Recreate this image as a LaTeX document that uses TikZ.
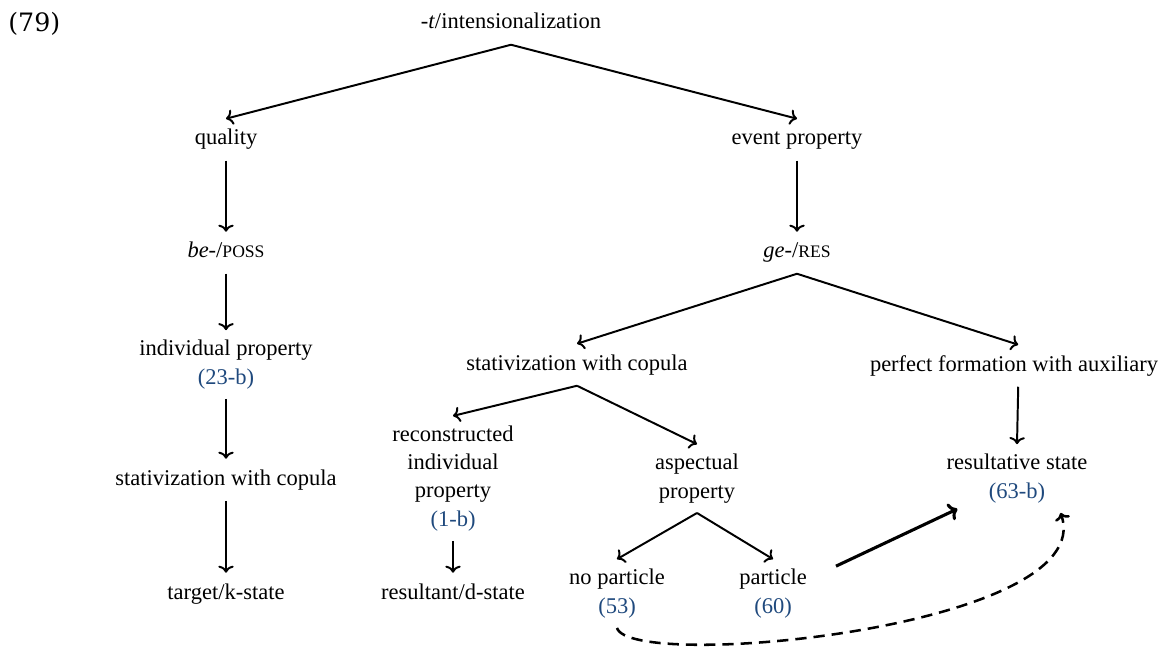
\documentclass[tikz,border=0pt]{standalone}
\usepackage{fontspec}
\setmainfont{Liberation Serif}
\newfontfamily\exnofont{DejaVu Serif}
\usepackage{tikz}
\usetikzlibrary{positioning, arrows.meta}

\definecolor{refblue}{RGB}{31,73,125}
\newcommand{\exref}[1]{\textcolor{refblue}{(#1)}}
\newcommand{\fsc}[1]{{\fontsize{12.5}{14}\selectfont #1}}

\tikzset{
  lbl/.style={inner xsep=0pt, inner ysep=7pt, anchor=base, align=center,
    font=\fontsize{16}{20}\selectfont},
  one/.style={lbl, text height=11.5pt, text depth=4pt},
  arr/.style={-{To[length=5pt,width=11pt]}, line width=1.4pt},
  thickarr/.style={-{To[length=6pt,width=13pt]}, line width=2.2pt},
  dasharr/.style={-{To[length=5pt,width=11pt]}, line width=1.8pt,
    dash pattern=on 8pt off 5pt},
}

\begin{document}
\begin{tikzpicture}[x=0.025cm, y=-0.025cm]
  \useasboundingbox (0,0) rectangle (1170,649);

  \node[anchor=base west, inner sep=0pt, font=\exnofont\fontsize{18}{20}\selectfont] (exno) at (8,32) {(79)};

  % upper levels
  \node[one] (top) at (511,29) {-\textit{t}/intensionalization};
  \node[one] (quality) at (226,145) {quality};
  \node[one] (evprop) at (797,145) {event property};
  \node[one] (bepos) at (226,258) {\textit{be-}/\fsc{POSS}};
  \node[one] (geres) at (797,258) {\textit{ge-}/\fsc{RES}};

  % left branch (base = last line)
  \node[lbl] (indprop) at (226,384) {individual property\\\exref{23-b}};
  \node[one] (statl) at (226,485) {stativization with copula};
  \node[one] (target) at (226,599) {target/k-state};

  % right branch
  \node[one] (statr) at (577,370) {stativization with copula};
  \node[one] (perfect) at (1014,371) {perfect formation with auxiliary};
  \node[lbl] (recon) at (453,526) {reconstructed\\individual\\property\\\exref{1-b}};
  \node[lbl] (asp) at (697,498) {aspectual\\property};
  \node[one] (resultant) at (453,599) {resultant/d-state};
  \node[lbl] (nopart) at (617,613) {no particle\\\exref{53}};
  \node[lbl] (part) at (773,613) {particle\\\exref{60}};
  \node[lbl] (resstate) at (1017,498) {resultative state\\\exref{63-b}};

  \draw[arr] (top.south) -- (quality.north);
  \draw[arr] (top.south) -- (evprop.north);
  \draw[arr] (quality) -- (bepos);
  \draw[arr] (evprop) -- (geres);
  \draw[arr] (bepos) -- (indprop);
  \draw[arr] (indprop) -- (statl);
  \draw[arr] (statl) -- (target);
  \draw[arr] (geres.south) -- (statr.north);
  \draw[arr] (geres.south) -- ([xshift=3pt]perfect.north);
  \draw[arr] ([xshift=3pt]perfect.south) -- (resstate.north);
  \draw[arr] (statr.south) -- (recon.north);
  \draw[arr] (statr.south) -- (asp.north);
  \draw[arr] (recon) -- (resultant);
  \draw[arr] (asp.south) -- (nopart.north);
  \draw[arr] (asp.south) -- (part.north);
  \draw[thickarr] ([shift={(29,7)}]part.north east) -- ([shift={(11,-4)}]resstate.south west);
  \draw[dasharr] (nopart.south) .. controls (630,672) and (1100,628) .. ([xshift=31pt]resstate.south);
\end{tikzpicture}
\end{document}
